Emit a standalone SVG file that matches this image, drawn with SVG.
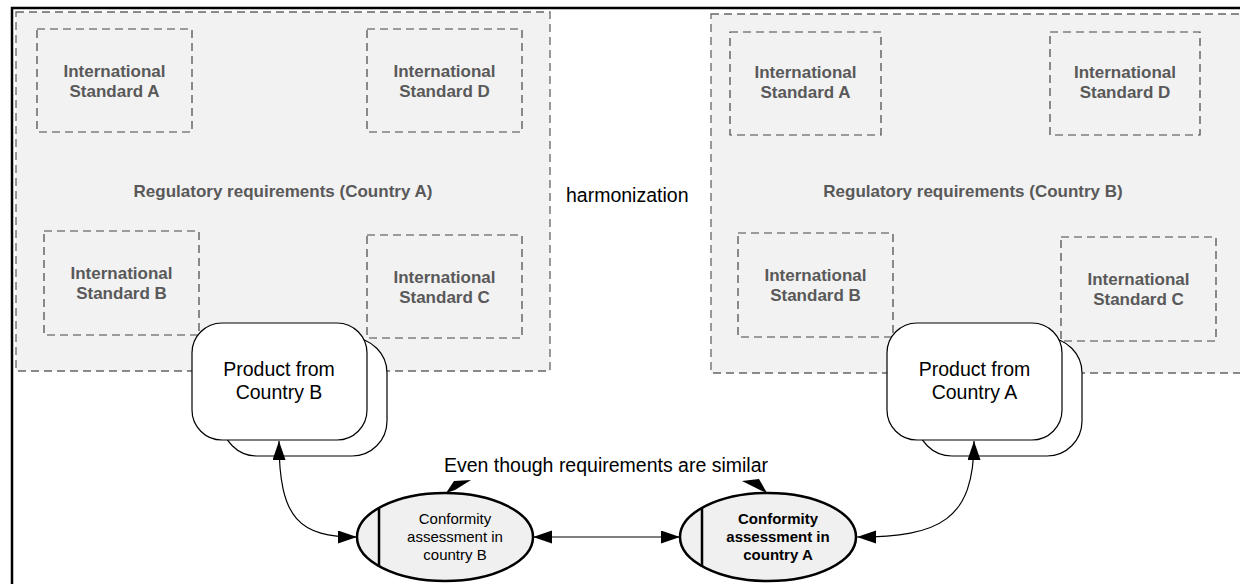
<svg xmlns="http://www.w3.org/2000/svg" width="1240" height="584" viewBox="0 0 1240 584">
  <style>
    .region { fill: #f2f2f2; stroke: #666666; stroke-width: 1.3; stroke-dasharray: 8 5; }
    .std { fill: none; stroke: #444444; stroke-width: 1.2; stroke-dasharray: 8 5; }
    .stdtext { font-family: "Liberation Sans", Arial, sans-serif; font-size: 17px; font-weight: bold; fill: #595959; text-anchor: middle; }
    .label { font-family: "Liberation Sans", Arial, sans-serif; font-size: 19.5px; fill: #000000; }
    .product { fill: #ffffff; stroke: #000000; stroke-width: 1.2; }
    .assess { fill: #f0f0f0; stroke: #000000; stroke-width: 2.5; }
    .assesstext { font-family: "Liberation Sans", Arial, sans-serif; font-size: 15px; fill: #000000; text-anchor: middle; }
    .conn { fill: none; stroke: #000000; stroke-width: 1.2; marker-start: url(#arrow); marker-end: url(#arrow); }
  </style>
  <defs>
    <marker id="arrow" markerUnits="userSpaceOnUse" markerWidth="20" markerHeight="14" refX="19" refY="6.5" orient="auto-start-reverse">
      <path d="M0,0 L19,6.5 L0,13 z" fill="#000000"/>
    </marker>
  </defs>

  <rect width="1240" height="584" fill="#ffffff"/>
  <!-- page frame -->
  <rect x="12" y="8" width="1240" height="600" fill="none" stroke="#000000" stroke-width="2.5"/>

  <!-- Country A requirements -->
  <g id="region-country-a">
    <rect class="region" x="16" y="12" width="534" height="359"/>
    <text class="stdtext" x="283" y="197">Regulatory requirements (Country A)</text>
  </g>
  <g id="a-standard-a">
    <rect class="std" x="37" y="29" width="155" height="103"/>
    <text class="stdtext" x="114.5" y="77">International</text>
    <text class="stdtext" x="114.5" y="97">Standard A</text>
  </g>
  <g id="a-standard-d">
    <rect class="std" x="367" y="29" width="155" height="103"/>
    <text class="stdtext" x="444.5" y="77">International</text>
    <text class="stdtext" x="444.5" y="97">Standard D</text>
  </g>
  <g id="a-standard-b">
    <rect class="std" x="44" y="231" width="155" height="104"/>
    <text class="stdtext" x="121.5" y="279">International</text>
    <text class="stdtext" x="121.5" y="299">Standard B</text>
  </g>
  <g id="a-standard-c">
    <rect class="std" x="367" y="235" width="155" height="103"/>
    <text class="stdtext" x="444.5" y="283">International</text>
    <text class="stdtext" x="444.5" y="303">Standard C</text>
  </g>

  <!-- Country B requirements -->
  <g id="region-country-b">
    <rect class="region" x="711" y="14" width="560" height="359"/>
    <text class="stdtext" x="973" y="197">Regulatory requirements (Country B)</text>
  </g>
  <g id="b-standard-a">
    <rect class="std" x="730" y="32" width="151" height="103"/>
    <text class="stdtext" x="805.5" y="78">International</text>
    <text class="stdtext" x="805.5" y="98">Standard A</text>
  </g>
  <g id="b-standard-d">
    <rect class="std" x="1050" y="32" width="150" height="103"/>
    <text class="stdtext" x="1125" y="78">International</text>
    <text class="stdtext" x="1125" y="98">Standard D</text>
  </g>
  <g id="b-standard-b">
    <rect class="std" x="738" y="233" width="155" height="104"/>
    <text class="stdtext" x="815.5" y="281">International</text>
    <text class="stdtext" x="815.5" y="301">Standard B</text>
  </g>
  <g id="b-standard-c">
    <rect class="std" x="1061" y="237" width="155" height="104"/>
    <text class="stdtext" x="1138.5" y="285">International</text>
    <text class="stdtext" x="1138.5" y="305">Standard C</text>
  </g>

  <g id="harmonization">
    <text class="label" x="566" y="202">harmonization</text>
  </g>

  <!-- products (stacked document shapes) -->
  <g id="product-from-b">
    <rect class="product" x="222" y="338" width="165" height="118" rx="35" ry="35"/>
    <rect class="product" x="192" y="323" width="175" height="117" rx="30" ry="30"/>
    <text class="label" x="279" y="376" text-anchor="middle">Product from</text>
    <text class="label" x="279" y="399" text-anchor="middle">Country B</text>
  </g>
  <g id="product-from-a">
    <rect class="product" x="917" y="338" width="165" height="118" rx="35" ry="35"/>
    <rect class="product" x="887" y="323" width="175" height="117" rx="30" ry="30"/>
    <text class="label" x="974.5" y="376" text-anchor="middle">Product from</text>
    <text class="label" x="974.5" y="399" text-anchor="middle">Country A</text>
  </g>

  <!-- conformity assessment bodies -->
  <g id="assessment-b">
    <ellipse class="assess" cx="445" cy="537" rx="88" ry="44"/>
    <line x1="379" y1="508" x2="379" y2="567" stroke="#000000" stroke-width="2.5"/>
    <text class="assesstext" x="455" y="524">Conformity</text>
    <text class="assesstext" x="455" y="542">assessment in</text>
    <text class="assesstext" x="455" y="560">country B</text>
  </g>
  <g id="assessment-a">
    <ellipse class="assess" cx="768" cy="537" rx="88" ry="44"/>
    <line x1="702" y1="508" x2="702" y2="567" stroke="#000000" stroke-width="2.5"/>
    <text class="assesstext" x="778" y="524" font-weight="bold">Conformity</text>
    <text class="assesstext" x="778" y="542" font-weight="bold">assessment in</text>
    <text class="assesstext" x="778" y="560" font-weight="bold">country A</text>
  </g>

  <!-- callout note -->
  <g id="note">
    <text class="label" x="606" y="472" text-anchor="middle">Even though requirements are similar</text>
    <polygon points="446,493 454,481 471,480 455,490" fill="#000000"/>
    <polygon points="742,481 759,479 767,493 760,490" fill="#000000"/>
  </g>

  <g id="connectors">
    <path class="conn" d="M279,441 C279,520 300,537 357,537"/>
    <path class="conn" d="M533,537 L680,537"/>
    <path class="conn" d="M857,537 C940,537 974,520 974,441"/>
  </g>
</svg>
